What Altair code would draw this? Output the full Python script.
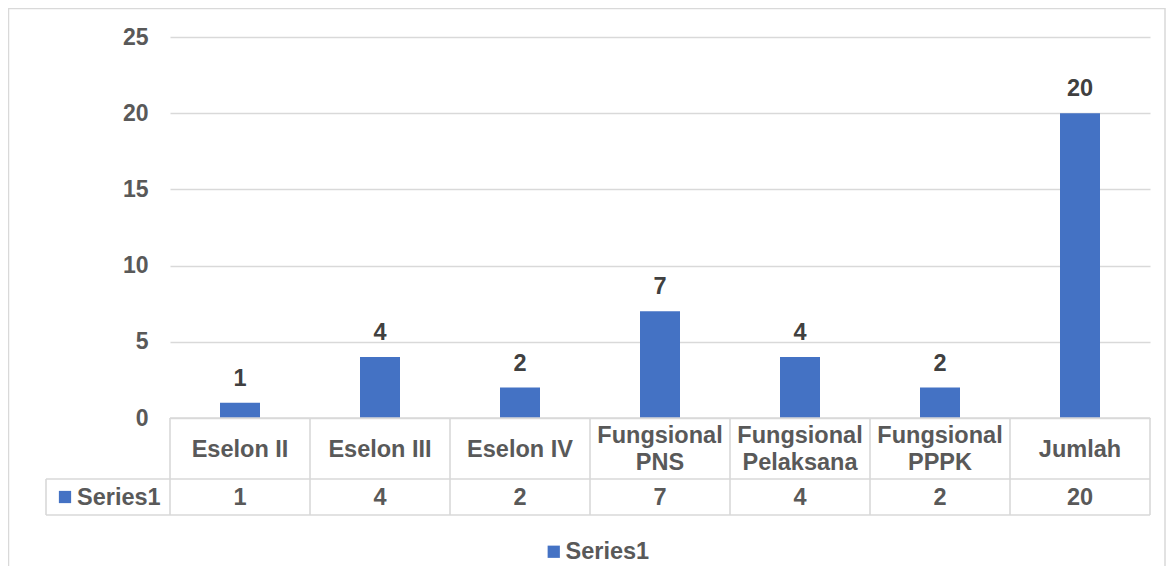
import altair as alt
import pandas as pd

categories = ["Eselon II", "Eselon III", "Eselon IV", "Fungsional\nPNS",
              "Fungsional\nPelaksana", "Fungsional\nPPPK", "Jumlah"]
values = [1, 4, 2, 7, 4, 2, 20]
series_name = "Series1"
y_ticks = [0, 5, 10, 15, 20, 25]

FONT = "Liberation Sans"
GREY = "#595959"
LINE = "#d9d9d9"
BLUE = "#4472C4"
FS = 23.5

W, H = 980, 381
HEADER_H, ROW_H = 61, 36
LEFT_CELL = 124
LH = 27

df = pd.DataFrame({
    "cat": categories,
    "value": values,
    "pos": [i + 0.5 for i in range(len(categories))],
    "series": [series_name] * len(categories),
})
bounds = pd.DataFrame({"b": list(range(len(categories) + 1))})
one = pd.DataFrame({"k": [0]})

xs = alt.Scale(domain=[0, len(categories)], nice=False, zero=False, padding=0)

bars = alt.Chart(df).mark_bar(size=40).encode(
    x=alt.X("pos:Q", scale=xs, axis=None),
    y=alt.Y("value:Q", scale=alt.Scale(domain=[0, 25], nice=False, padding=0),
            axis=alt.Axis(values=y_ticks, title=None, domain=False, ticks=False,
                          labelFont=FONT, labelFontSize=23, labelFontWeight="bold",
                          labelColor=GREY, labelPadding=22, grid=True,
                          gridColor=LINE, gridWidth=1.3)),
    color=alt.Color("series:N", scale=alt.Scale(range=[BLUE]),
                    legend=alt.Legend(orient="none", legendX=372, legendY=503,
                                      title=None, symbolType="square",
                                      symbolSize=150, symbolStrokeWidth=0,
                                      labelFont=FONT, labelFontSize=FS,
                                      labelFontWeight="bold", labelColor=GREY,
                                      labelOffset=0)),
)

labels = alt.Chart(df).mark_text(baseline="alphabetic", dy=-17, font=FONT,
                                 fontSize=FS, fontWeight="bold",
                                 color="#404040").encode(
    x=alt.X("pos:Q", scale=xs), y="value:Q", text="value:Q")

hdr_y = H + HEADER_H / 2 + 1
header1 = alt.Chart(df).transform_filter(
    "indexof(datum.cat, '\\n') < 0").mark_text(
    baseline="middle", font=FONT, fontSize=FS, fontWeight="bold", color=GREY).encode(
    x=alt.X("pos:Q", scale=xs), y=alt.value(hdr_y), text="cat:N")
header2 = alt.Chart(df).transform_filter(
    "indexof(datum.cat, '\\n') >= 0").mark_text(
    lineBreak="\n", baseline="middle", font=FONT, fontSize=FS, fontWeight="bold",
    color=GREY, lineHeight=LH, dy=-LH / 2).encode(
    x=alt.X("pos:Q", scale=xs), y=alt.value(hdr_y), text="cat:N")

rowvals = alt.Chart(df).mark_text(baseline="middle", font=FONT, fontSize=FS,
                                  fontWeight="bold", color=GREY).encode(
    x=alt.X("pos:Q", scale=xs), y=alt.value(H + HEADER_H + ROW_H / 2 + 1),
    text="value:Q")

vlines = alt.Chart(bounds).mark_rule(color=LINE, strokeWidth=1.6).encode(
    x=alt.X("b:Q", scale=xs), y=alt.value(H), y2=alt.value(H + HEADER_H + ROW_H))

h_top = alt.Chart(one).mark_rule(color=LINE, strokeWidth=1.6).encode(
    x=alt.value(0), x2=alt.value(W), y=alt.value(H))
h_mid = alt.Chart(one).mark_rule(color=LINE, strokeWidth=1.6).encode(
    x=alt.value(-LEFT_CELL), x2=alt.value(W), y=alt.value(H + HEADER_H))
h_bot = alt.Chart(one).mark_rule(color=LINE, strokeWidth=1.6).encode(
    x=alt.value(-LEFT_CELL), x2=alt.value(W), y=alt.value(H + HEADER_H + ROW_H))
v_left = alt.Chart(one).mark_rule(color=LINE, strokeWidth=1.6).encode(
    x=alt.value(-LEFT_CELL), y=alt.value(H + HEADER_H), y2=alt.value(H + HEADER_H + ROW_H))

cell_sym = alt.Chart(one).mark_square(size=150, color=BLUE, opacity=1).encode(
    x=alt.value(-LEFT_CELL + 19), y=alt.value(H + HEADER_H + ROW_H / 2))
cell_txt = alt.Chart(one).mark_text(align="left", baseline="middle", font=FONT,
                                    fontSize=FS, fontWeight="bold", color=GREY).encode(
    x=alt.value(-LEFT_CELL + 31), y=alt.value(H + HEADER_H + ROW_H / 2 + 1),
    text=alt.value(series_name))

border = alt.Chart(one).mark_rect(filled=False, stroke=LINE, strokeWidth=1.5).encode(
    x=alt.value(-161.5), x2=alt.value(995), y=alt.value(-28.5), y2=alt.value(600))

chart = alt.layer(border, bars, labels, vlines, h_top, h_mid, h_bot, v_left,
                  header1, header2, rowvals, cell_sym, cell_txt).properties(
    width=W, height=H,
    autosize=alt.AutoSizeParams(type="none"),
    padding={"left": 162, "top": 29, "right": 17, "bottom": 148},
).configure_view(stroke=None)

chart.save("out.html", embed_options={"renderer": "svg", "actions": False})
